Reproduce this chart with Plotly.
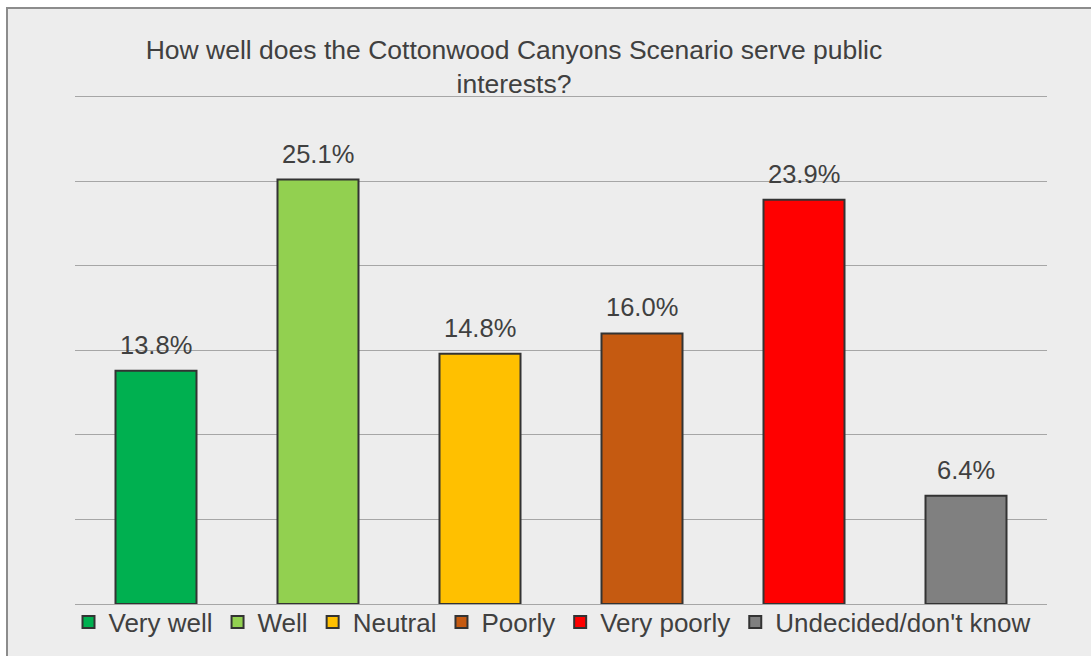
import plotly.graph_objects as go

# Survey responses: share of respondents per answer (percent)
categories = ["Very well", "Well", "Neutral", "Poorly", "Very poorly", "Undecided/don't know"]
shares = [13.8, 25.1, 14.8, 16.0, 23.9, 6.4]
colors = ["#00B050", "#92D050", "#FFC000", "#C55A11", "#FF0000", "#808080"]

title_text = "How well does the Cottonwood Canyons Scenario serve public<br>interests?"

W, H = 1091, 656
ML, MR, MT, MB = 75, 44, 95, 52
plot_w = W - ML - MR
plot_h = H - MT - MB

text_color = "#404040"
font_family = "Liberation Sans, Arial, sans-serif"

fig = go.Figure()
for cat, val, col in zip(categories, shares, colors):
    fig.add_trace(go.Bar(
        x=[cat], y=[val], name=cat,
        marker=dict(color=col, line=dict(color="#333333", width=2)),
        hoverinfo="x+y",
    ))

# value labels above each bar
for cat, val in zip(categories, shares):
    fig.add_annotation(
        x=cat, y=val, text=f"{val:.1f}%", showarrow=False,
        yanchor="bottom", yshift=10,
        font=dict(size=25.5, color=text_color, family=font_family),
    )

def px_x(p):
    return (p - ML) / plot_w

def px_y(p):
    return (H - MB - p) / plot_h

# chart frame
fig.add_shape(
    type="rect", xref="paper", yref="paper",
    x0=px_x(7), x1=px_x(W + 20), y0=px_y(H + 20), y1=px_y(8),
    fillcolor="#EDEDED", line=dict(color="#8C8C8C", width=2), layer="below",
)

fig.update_layout(
    width=W, height=H,
    margin=dict(l=ML, r=MR, t=MT, b=MB, pad=0, autoexpand=False),
    paper_bgcolor="white",
    plot_bgcolor="rgba(0,0,0,0)",
    barmode="overlay",
    bargap=0.5,
    font=dict(family=font_family, color=text_color),
    title=dict(
        text=title_text, xref="paper", x=px_x(514), xanchor="center",
        yref="container", y=1 - 59 / H, yanchor="middle",
        font=dict(size=26.5, color=text_color, family=font_family),
    ),
    xaxis=dict(showticklabels=False, showgrid=False, zeroline=False, showline=False,
               ticks="", fixedrange=True),
    yaxis=dict(range=[0, 30.1], tickvals=[0, 5, 10, 15, 20, 25, 30],
               showticklabels=False, showgrid=True,
               gridcolor="#A6A6A6", gridwidth=1.3, zeroline=True,
               zerolinecolor="#A6A6A6", zerolinewidth=1.3, showline=False, ticks=""),
    legend=dict(
        orientation="h", xref="container", x=552 / W, xanchor="center",
        yref="container", y=1 - 622 / H, yanchor="middle",
        font=dict(size=26, color=text_color, family=font_family),
        bgcolor="rgba(0,0,0,0)", itemclick=False, itemdoubleclick=False,
        traceorder="normal",
    ),
    showlegend=True,
)

fig.write_html("out.html")
